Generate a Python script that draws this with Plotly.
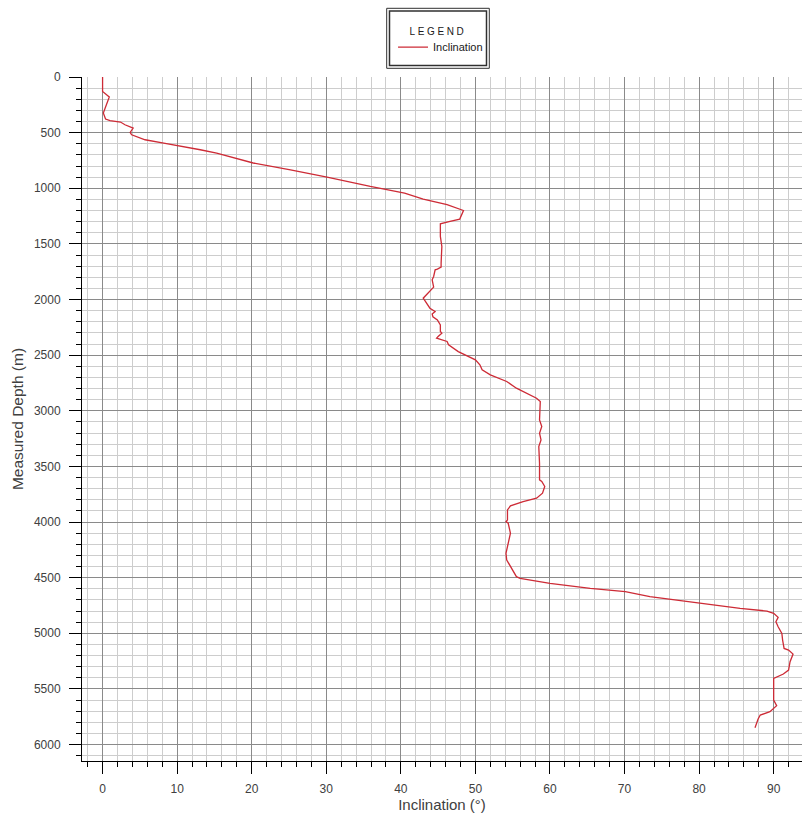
import plotly.graph_objects as go

depth_m = [0, 130, 180, 324, 378, 393, 405, 429, 459, 498, 519, 564, 594, 615, 654, 684, 729, 773,
           834, 899, 984, 1043, 1097, 1148, 1200, 1277, 1298, 1319, 1433, 1523, 1673, 1709, 1727,
           1733, 1793, 1823, 1889, 1928, 1988, 2078, 2108, 2130, 2155, 2183, 2228, 2288, 2302, 2333,
           2347, 2377, 2407, 2468, 2542, 2587, 2632, 2677, 2737, 2797, 2842, 2887, 2917, 3082, 3142,
           3202, 3262, 3322, 3471, 3621, 3636, 3681, 3741, 3786, 3816, 3855, 3891, 3981, 3996, 4011,
           4101, 4191, 4281, 4341, 4416, 4491, 4506, 4551, 4596, 4626, 4671, 4731, 4776, 4800, 4821,
           4857, 4896, 4941, 5001, 5061, 5136, 5151, 5187, 5256, 5331, 5366, 5405, 5481, 5600, 5651,
           5675, 5705, 5735, 5773, 5849]
inclination_deg = [0.0, 0.0, 0.9, 0.1, 0.4, 1.0, 2.4, 3.0, 4.1, 3.7, 3.9, 5.7, 8.2, 10.0, 13.1, 15.3,
                   17.6, 20.2, 25.2, 30.1, 35.9, 40.5, 43.0, 46.2, 48.4, 47.9, 46.6, 45.3, 45.3, 45.5,
                   45.4, 45.4, 44.9, 44.6, 44.4, 44.2, 44.4, 43.9, 43.0, 43.9, 44.6, 44.2, 44.3, 44.9,
                   45.3, 45.3, 45.5, 45.0, 44.8, 46.2, 46.4, 47.7, 50.0, 50.6, 50.9, 52.0, 54.2, 55.5,
                   56.9, 58.2, 58.7, 58.6, 58.9, 58.6, 58.8, 58.5, 58.6, 58.6, 58.9, 59.3, 59.0, 58.2,
                   56.4, 54.7, 54.3, 54.3, 54.1, 54.4, 54.7, 54.4, 54.1, 54.2, 54.9, 55.5, 56.0, 60.0,
                   65.4, 70.1, 73.4, 80.1, 85.5, 89.1, 90.0, 90.6, 90.3, 90.6, 91.1, 91.2, 91.4, 92.0,
                   92.6, 92.2, 92.0, 91.3, 90.0, 90.0, 90.0, 90.4, 90.0, 89.5, 88.2, 87.9, 87.5]

series_name = "Inclination"
legend_title = "LEGEND"
x_title = "Inclination (°)"
y_title = "Measured Depth (m)"

FONT = "Liberation Sans, Arial, sans-serif"
RED = "#cd2b36"
MAJOR = "#8a8a8a"
MINOR = "#cdcdcd"

fig = go.Figure()
fig.add_trace(go.Scatter(x=inclination_deg, y=depth_m, mode="lines", name=series_name,
                         line=dict(color=RED, width=1.3)))

fig.update_layout(
    width=804, height=814,
    margin=dict(l=82, r=2, t=77, b=53),
    paper_bgcolor="white", plot_bgcolor="white",
    font=dict(family=FONT, color="#404040"),
    showlegend=True,
    legend=dict(
        x=0.432, xanchor="left", y=1.084, yanchor="top",
        bgcolor="rgba(0,0,0,0)", borderwidth=0,
        title=dict(text=legend_title, side="top center", font=dict(size=10, color="#202020")),
        font=dict(size=11, color="#202020"),
    ),
    xaxis=dict(
        range=[-2.76, 93.8], dtick=10, tick0=0,
        showgrid=True, gridcolor=MAJOR, gridwidth=1, zeroline=False,
        showline=True, linecolor="black", linewidth=1,
        ticks="outside", ticklen=12, tickcolor="black",
        ticklabelstandoff=5,
        tickfont=dict(size=12, color="#404040"),
        minor=dict(dtick=2, tick0=0, showgrid=True, gridcolor=MINOR, ticks="outside",
                   ticklen=5, tickcolor="black"),
        title=dict(text=x_title, font=dict(size=15, color="#404040"), standoff=3),
        automargin=False,
    ),
    yaxis=dict(
        range=[6148, 0], dtick=500, tick0=0,
        showgrid=True, gridcolor=MAJOR, gridwidth=1, zeroline=False,
        showline=True, linecolor="black", linewidth=1,
        ticks="outside", ticklen=12, tickcolor="black",
        ticklabelstandoff=6,
        tickfont=dict(size=12, color="#404040"),
        minor=dict(dtick=100, tick0=0, showgrid=True, gridcolor=MINOR, ticks="outside",
                   ticklen=5, tickcolor="black"),
        title=dict(text=y_title, font=dict(size=15.5, color="#404040"), standoff=6),
        automargin=False,
    ),
    shapes=[
        dict(type="rect", xref="paper", yref="paper",
             x0=(386.7 - 82) / 720, x1=(489.3 - 82) / 720,
             y0=(761 - 68.3) / 684, y1=(761 - 8.3) / 684,
             line=dict(color="#303030", width=1), fillcolor="rgba(0,0,0,0)"),
        dict(type="rect", xref="paper", yref="paper",
             x0=(389.5 - 82) / 720, x1=(486.5 - 82) / 720,
             y0=(761 - 65.5) / 684, y1=(761 - 11) / 684,
             line=dict(color="#303030", width=1.5), fillcolor="rgba(0,0,0,0)"),
    ],
)

post_js = """
document.body.style.margin='0';
document.body.style.padding='0';
var t=document.querySelector('.legendtitletext');
if(t){
  t.style.letterSpacing='2.6px';
  var r=t.getBoundingClientRect();
  var cx=r.left+r.width/2, cy=r.top+r.height/2;
  var x=parseFloat(t.getAttribute('x')||'0'), y=parseFloat(t.getAttribute('y')||'0');
  t.setAttribute('x', x+(438-cx));
  t.setAttribute('y', y+(32-cy));
}
"""

fig.write_html("out.html", post_script=post_js, config={"displayModeBar": False})
